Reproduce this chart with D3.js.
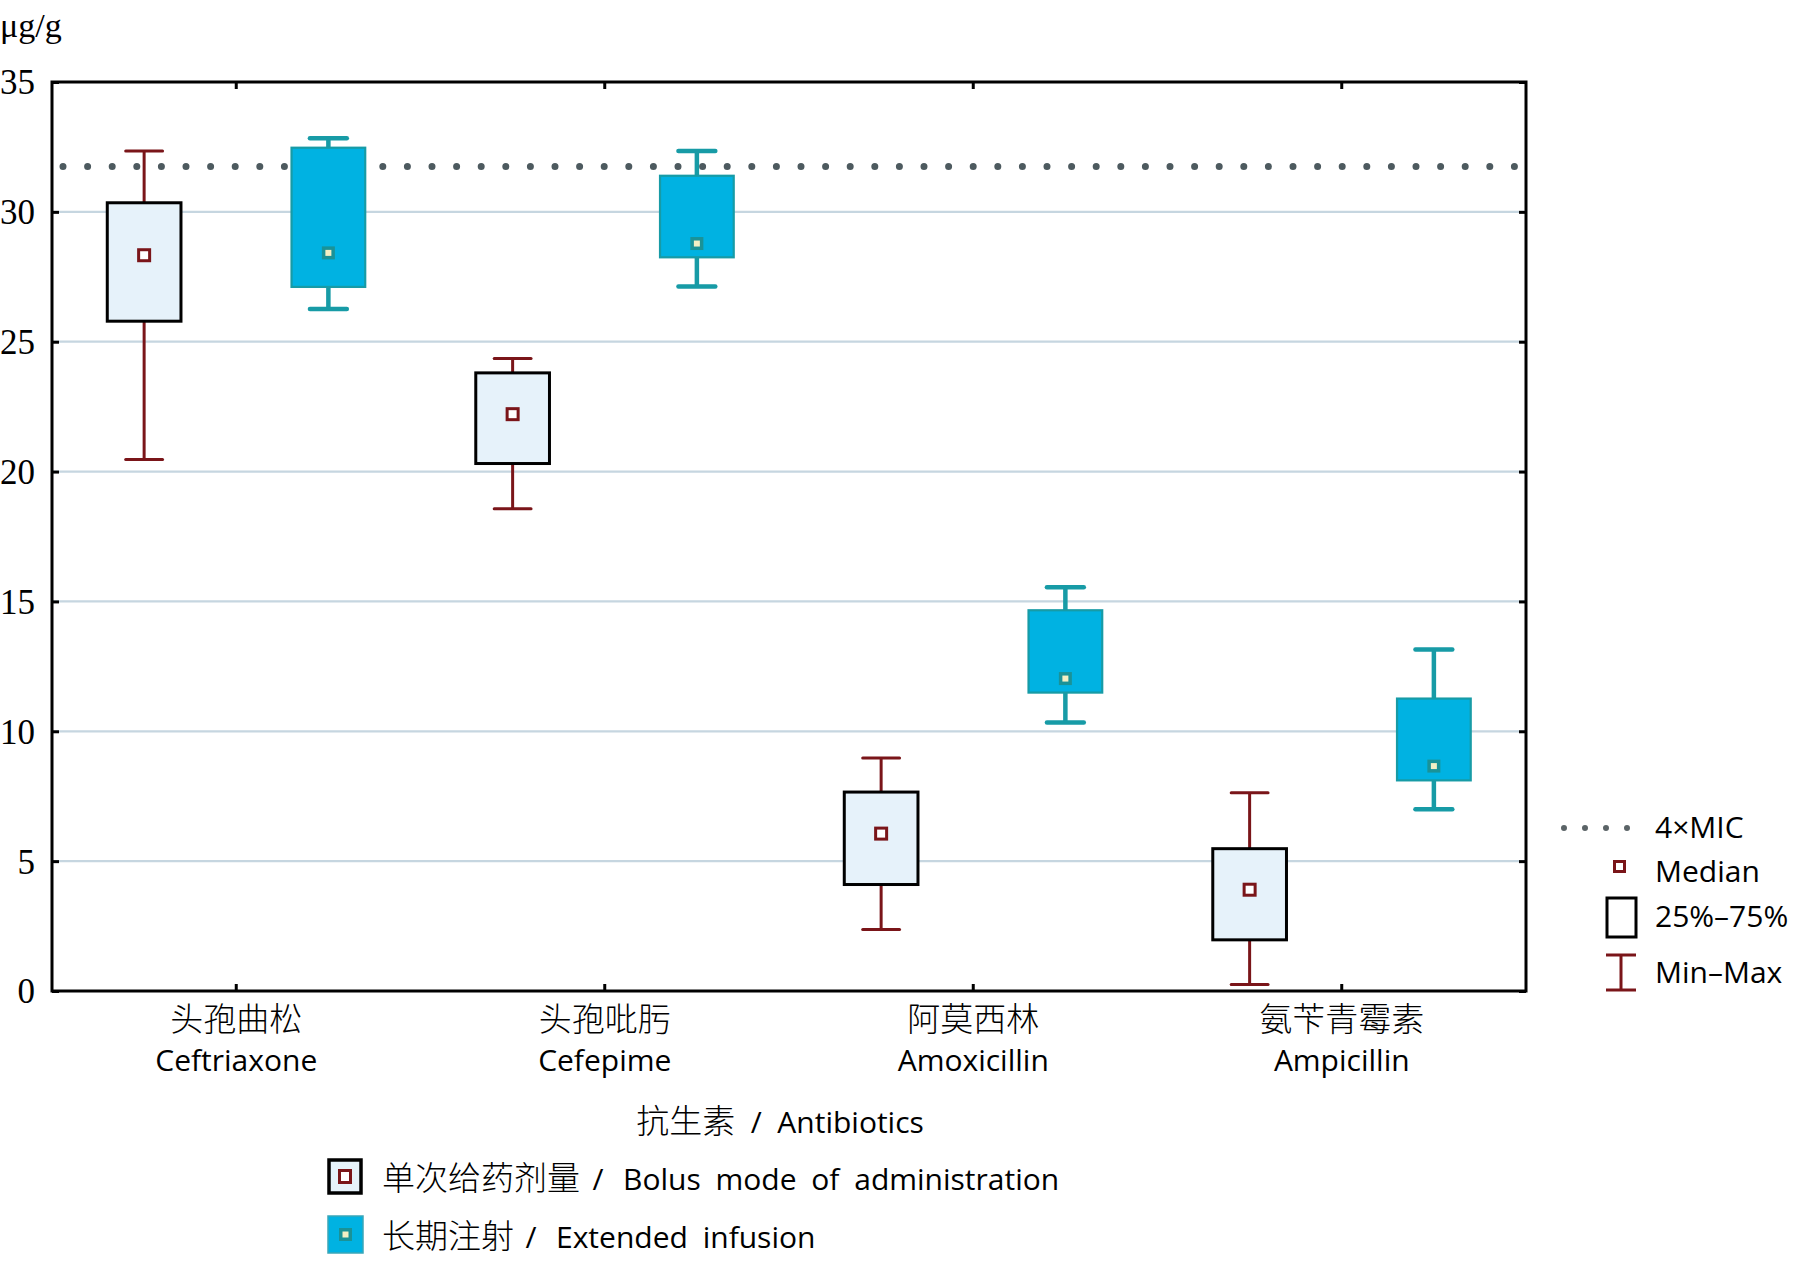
<!DOCTYPE html>
<html>
<head>
<meta charset="utf-8">
<script src="https://cdn.jsdelivr.net/npm/d3@7/dist/d3.min.js"></script>
<style>
  html, body { margin: 0; padding: 0; background: #ffffff; }
  svg { display: block; }
</style>
</head>
<body>
<svg id="chart" width="1800" height="1265"></svg>
<script>
// ---------------- DATA ----------------
const categories   = ["Ceftriaxone", "Cefepime", "Amoxicillin", "Ampicillin"];
const categoriesZh = ["头孢曲松", "头孢吡肟", "阿莫西林", "氨苄青霉素"];
const seriesKeys   = ["bolus", "extended"];

const bolusMin    = [20.46, 18.57, 2.37, 0.25];
const bolusQ1     = [25.79, 20.31, 4.10, 1.97];
const bolusMedian = [28.33, 22.21, 6.06, 3.90];
const bolusQ3     = [30.35, 23.80, 7.66, 5.48];
const bolusMax    = [32.34, 24.35, 8.97, 7.63];

const extMin    = [26.26, 27.13, 10.34, 7.00];
const extQ1     = [27.11, 28.25, 11.49, 8.11];
const extMedian = [28.42, 28.78, 12.03, 8.66];
const extQ3     = [32.47, 31.39, 14.66, 11.26];
const extMax    = [32.83, 32.34, 15.55, 13.15];

const micLevel = 31.75;
const yTicks = [0, 5, 10, 15, 20, 25, 30, 35];
const gridTicks = [5, 10, 15, 20, 25, 30];

const yUnit = "μg/g";
const xTitleZh = "抗生素";
const xTitleEn = "Antibiotics";
const legendSeries = [
  { zh: "单次给药剂量", en: "Bolus mode of administration" },
  { zh: "长期注射", en: "Extended infusion" }
];
const legendSymbols = ["4×MIC", "Median", "25%–75%", "Min–Max"];

// ---------------- STYLE ----------------
const C = {
  darkRed: "#7a1519",
  boxFill: "#e6f2fa",
  cyan: "#00b2e2",
  teal: "#179ba6",
  tealDark: "#1a9297",
  yellow: "#f4efc4",
  grid: "#c6d6e0",
  dots: "#4d5a5f"
};
const EN = "'Open Sans', 'Noto Sans CJK SC', sans-serif";
const ZH = "'Noto Sans CJK SC', 'Open Sans', sans-serif";
const SERIF = "'Liberation Serif', 'DejaVu Serif', serif";

const svg = d3.select("#chart");
const pLeft = 52, pRight = 1526, pTop = 82, pBottom = 991;

const x = d3.scaleBand().domain(categories).range([pLeft, pRight]).padding(0);
const xSub = d3.scaleBand().domain(seriesKeys).range([0, x.bandwidth()]).padding(0);
const y = d3.scaleLinear().domain([0, 35]).range([pBottom, pTop]);

const boxW = xSub.bandwidth() * 0.40;
const capW = boxW * 0.5;

const rows = categories.map((c, i) => ({
  cat: c,
  bolus:    { min: bolusMin[i], q1: bolusQ1[i], med: bolusMedian[i], q3: bolusQ3[i], max: bolusMax[i] },
  extended: { min: extMin[i],   q1: extQ1[i],   med: extMedian[i],   q3: extQ3[i],   max: extMax[i] }
}));

// gridlines
svg.append("g").selectAll("line").data(gridTicks).join("line")
  .attr("x1", pLeft).attr("x2", pRight)
  .attr("y1", d => y(d)).attr("y2", d => y(d))
  .attr("stroke", C.grid).attr("stroke-width", 2.2);

// 4xMIC dotted line
svg.append("line")
  .attr("x1", pLeft + 11).attr("x2", pRight - 11)
  .attr("y1", y(micLevel)).attr("y2", y(micLevel))
  .attr("stroke", C.dots).attr("stroke-width", 7)
  .attr("stroke-linecap", "round")
  .attr("stroke-dasharray", "0 24.6");

// boxes
const gBox = svg.append("g");
rows.forEach(r => {
  seriesKeys.forEach(k => {
    const d = r[k];
    const cx = x(r.cat) + xSub(k) + xSub.bandwidth() / 2;
    const isB = k === "bolus";
    const wc = isB ? C.darkRed : C.teal;
    const ww = isB ? 3 : 4.5;
    const g = gBox.append("g");
    g.append("line").attr("x1", cx).attr("x2", cx).attr("y1", y(d.max)).attr("y2", y(d.q3))
      .attr("stroke", wc).attr("stroke-width", ww);
    g.append("line").attr("x1", cx).attr("x2", cx).attr("y1", y(d.q1)).attr("y2", y(d.min))
      .attr("stroke", wc).attr("stroke-width", ww);
    [d.max, d.min].forEach(v => {
      g.append("line").attr("x1", cx - capW / 2).attr("x2", cx + capW / 2)
        .attr("y1", y(v)).attr("y2", y(v))
        .attr("stroke", wc).attr("stroke-width", ww).attr("stroke-linecap", "round");
    });
    g.append("rect")
      .attr("x", cx - boxW / 2).attr("width", boxW)
      .attr("y", y(d.q3)).attr("height", y(d.q1) - y(d.q3))
      .attr("fill", isB ? C.boxFill : C.cyan)
      .attr("stroke", isB ? "#000" : C.teal)
      .attr("stroke-width", isB ? 3 : 2.2);
    if (isB) {
      g.append("rect").attr("x", cx - 5.5).attr("y", y(d.med) - 5.5)
        .attr("width", 11).attr("height", 11)
        .attr("fill", "#fff").attr("stroke", C.darkRed).attr("stroke-width", 3);
    } else {
      g.append("rect").attr("x", cx - 6.5).attr("y", y(d.med) - 6.5)
        .attr("width", 13).attr("height", 13).attr("fill", C.tealDark);
      g.append("rect").attr("x", cx - 3).attr("y", y(d.med) - 3)
        .attr("width", 6).attr("height", 6).attr("fill", C.yellow);
    }
  });
});

// axes (inward ticks)
const tickLen = 7;
const axL = svg.append("g").attr("transform", `translate(${pLeft},0)`)
  .call(d3.axisLeft(y).tickValues(yTicks).tickSize(-tickLen).tickPadding(17).tickFormat(d3.format("d")));
const axR = svg.append("g").attr("transform", `translate(${pRight},0)`)
  .call(d3.axisRight(y).tickValues(yTicks).tickSize(-tickLen).tickFormat(""));
const axT = svg.append("g").attr("transform", `translate(0,${pTop})`)
  .call(d3.axisTop(x).tickSize(-tickLen).tickFormat(""));
const axB = svg.append("g").attr("transform", `translate(0,${pBottom})`)
  .call(d3.axisBottom(x).tickSize(-tickLen).tickFormat(""));
[axL, axR, axT, axB].forEach(a => {
  a.select(".domain").remove();
  a.selectAll(".tick line").attr("stroke", "#000").attr("stroke-width", 3);
});
axL.selectAll(".tick text")
  .attr("font-family", SERIF).attr("font-size", 35).attr("fill", "#000")
  .attr("dy", "0.34em");

// frame
svg.append("rect").attr("x", pLeft).attr("y", pTop)
  .attr("width", pRight - pLeft).attr("height", pBottom - pTop)
  .attr("fill", "none").attr("stroke", "#000").attr("stroke-width", 3);

// unit label
svg.append("text").attr("x", 0).attr("y", 37)
  .attr("font-family", SERIF).attr("font-size", 34).attr("fill", "#000")
  .text(yUnit);

// x category labels
const gx = svg.append("g");
categories.forEach((c, i) => {
  const cx = x(c) + x.bandwidth() / 2;
  gx.append("text").attr("x", cx).attr("y", 1031).attr("text-anchor", "middle")
    .attr("font-family", ZH).attr("font-size", 33).attr("font-weight", 300).attr("fill", "#000")
    .text(categoriesZh[i]);
  gx.append("text").attr("x", cx).attr("y", 1071).attr("text-anchor", "middle")
    .attr("font-family", EN).attr("font-size", 30).attr("fill", "#000")
    .text(c);
});

// x axis title
const tt = svg.append("text").attr("x", 780).attr("y", 1133).attr("text-anchor", "middle").attr("fill", "#000");
tt.append("tspan").attr("font-family", ZH).attr("font-size", 33).attr("font-weight", 300).text(xTitleZh);
tt.append("tspan").attr("font-family", EN).attr("font-size", 30).attr("xml:space", "preserve").text("  /  " + xTitleEn);

// bottom legend
const lgB = svg.append("g");
const rowY = [1190, 1248];
const slashX = [598, 531];
const enX = [623, 556];
legendSeries.forEach((s, i) => {
  const by = rowY[i] - 30;
  if (i === 0) {
    lgB.append("rect").attr("x", 329).attr("y", by).attr("width", 32).attr("height", 33)
      .attr("fill", C.boxFill).attr("stroke", "#000").attr("stroke-width", 3.5);
    lgB.append("rect").attr("x", 339.5).attr("y", by + 10.5).attr("width", 11).attr("height", 12)
      .attr("fill", "#fff").attr("stroke", C.darkRed).attr("stroke-width", 3);
  } else {
    lgB.append("rect").attr("x", 328).attr("y", by - 2).attr("width", 35).attr("height", 37)
      .attr("fill", C.cyan).attr("stroke", "#3aa6b8").attr("stroke-width", 1.5);
    lgB.append("rect").attr("x", 339).attr("y", by + 10).attr("width", 13).attr("height", 13)
      .attr("fill", C.tealDark);
    lgB.append("rect").attr("x", 342.5).attr("y", by + 13.5).attr("width", 6).attr("height", 6)
      .attr("fill", C.yellow);
  }
  lgB.append("text").attr("x", 382).attr("y", rowY[i]).attr("fill", "#000")
    .attr("font-family", ZH).attr("font-size", 33).attr("font-weight", 300).text(s.zh);
  lgB.append("text").attr("x", slashX[i]).attr("y", rowY[i]).attr("fill", "#000")
    .attr("text-anchor", "middle")
    .attr("font-family", EN).attr("font-size", 30).text("/");
  lgB.append("text").attr("x", enX[i]).attr("y", rowY[i]).attr("fill", "#000")
    .attr("font-family", EN).attr("font-size", 30).attr("word-spacing", 7).text(s.en);
});

// right legend
const lgR = svg.append("g");
const lx = 1655;
const lBase = [838, 882, 927, 983];
lgR.append("line").attr("x1", 1564).attr("x2", 1629).attr("y1", 828).attr("y2", 828)
  .attr("stroke", "#5b6467").attr("stroke-width", 6).attr("stroke-linecap", "round")
  .attr("stroke-dasharray", "0 21");
lgR.append("rect").attr("x", 1614.5).attr("y", 861.5).attr("width", 10).attr("height", 10)
  .attr("fill", "#fff").attr("stroke", C.darkRed).attr("stroke-width", 3);
lgR.append("rect").attr("x", 1607).attr("y", 898).attr("width", 29).attr("height", 39)
  .attr("fill", "#fff").attr("stroke", "#000").attr("stroke-width", 3);
lgR.append("line").attr("x1", 1621).attr("x2", 1621).attr("y1", 955).attr("y2", 990)
  .attr("stroke", C.darkRed).attr("stroke-width", 3);
[955, 990].forEach(v => lgR.append("line").attr("x1", 1606).attr("x2", 1636)
  .attr("y1", v).attr("y2", v).attr("stroke", C.darkRed).attr("stroke-width", 3));
legendSymbols.forEach((s, i) => {
  lgR.append("text").attr("x", lx).attr("y", lBase[i])
    .attr("font-family", EN).attr("font-size", 30).attr("fill", "#000").text(s);
});
</script>
</body>
</html>
